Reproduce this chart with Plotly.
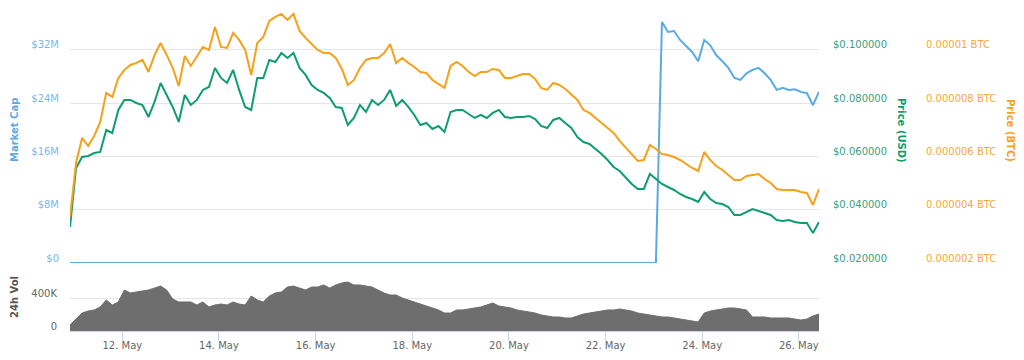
import pandas as pd
import plotly.graph_objects as go

# ---------------- data ----------------
start_time = "2018-05-10 22:00"
step = "3h"

price_usd = [
    0.03352, 0.05568, 0.05981, 0.06019, 0.06131, 0.06169, 0.06995, 0.06883, 0.07746, 0.08122,
    0.08122, 0.08009, 0.07934, 0.07483, 0.08047, 0.08761, 0.08310, 0.07859, 0.07296, 0.08310,
    0.07934, 0.08122, 0.08498, 0.08610, 0.09324, 0.08948, 0.08761, 0.09249, 0.08498, 0.07859,
    0.07746, 0.08948, 0.08948, 0.09624, 0.09549, 0.09887, 0.09700, 0.09887, 0.09324, 0.09061,
    0.08685, 0.08498, 0.08385, 0.08197, 0.07859, 0.07822, 0.07183, 0.07446, 0.07934, 0.07671,
    0.08122, 0.07934, 0.08122, 0.08498, 0.07897, 0.08122, 0.07859, 0.07559, 0.07183, 0.07258,
    0.07033, 0.07145, 0.06920, 0.07671, 0.07746, 0.07746, 0.07596, 0.07446, 0.07559, 0.07446,
    0.07634, 0.07746, 0.07483, 0.07446, 0.07483, 0.07483, 0.07521, 0.07408, 0.07145, 0.07070,
    0.07371, 0.07446, 0.07258, 0.07070, 0.06732, 0.06544, 0.06469, 0.06282, 0.06094, 0.05868,
    0.05605, 0.05455, 0.05192, 0.04967, 0.04779, 0.04779, 0.05343, 0.05155, 0.04967, 0.04854,
    0.04742, 0.04591, 0.04479, 0.04404, 0.04291, 0.04666, 0.04404, 0.04253, 0.04216, 0.04103,
    0.03803, 0.03803, 0.03915, 0.04028, 0.03953, 0.03878, 0.03803, 0.03615, 0.03577, 0.03615,
    0.03540, 0.03502, 0.03502, 0.03127, 0.03540,
]

price_btc_micro = [
    3.727, 5.756, 6.695, 6.394, 6.770, 7.296, 8.385, 8.235, 8.948, 9.249,
    9.437, 9.512, 9.624, 9.174, 9.812, 10.263, 9.812, 9.324, 8.648, 9.775,
    9.399, 9.737, 10.113, 10.000, 10.864, 10.113, 10.075, 10.639, 10.376, 10.000,
    9.061, 10.263, 10.488, 11.089, 11.239, 11.352, 11.127, 11.352, 10.714, 10.451,
    10.225, 10.000, 9.887, 9.887, 9.700, 9.286, 8.685, 8.873, 9.324, 9.624,
    9.700, 9.700, 9.887, 10.225, 9.512, 9.700, 9.512, 9.361, 9.174, 9.136,
    8.873, 8.723, 8.573, 9.399, 9.549, 9.399, 9.174, 9.023, 9.174, 9.174,
    9.286, 9.249, 8.948, 8.948, 9.023, 9.099, 9.099, 8.911, 8.573, 8.498,
    8.761, 8.685, 8.535, 8.310, 8.122, 7.746, 7.634, 7.446, 7.258, 7.070,
    6.883, 6.582, 6.319, 6.056, 5.831, 5.868, 6.432, 6.282, 6.094, 6.056,
    5.981, 5.868, 5.718, 5.568, 5.455, 6.169, 5.868, 5.643, 5.493, 5.305,
    5.117, 5.117, 5.267, 5.305, 5.343, 5.155, 5.005, 4.779, 4.742, 4.742,
    4.742, 4.666, 4.629, 4.178, 4.779,
]
price_btc = [v * 1e-6 for v in price_btc_micro]

market_cap_musd = [0.0] * 98 + [
    36.2, 34.7, 34.85, 33.5, 32.6, 31.7, 30.3, 33.5, 32.7, 31.2,
    30.3, 29.3, 27.8, 27.5, 28.5, 29.0, 29.3, 28.5, 27.5, 26.0,
    26.3, 26.0, 26.1, 25.7, 25.5, 23.7, 25.7,
]
market_cap = [v * 1e6 for v in market_cap_musd]

volume_k = [
    73, 145, 218, 242, 255, 291, 376, 315, 352, 497,
    461, 473, 485, 497, 521, 545, 497, 388, 352, 352,
    352, 315, 352, 291, 315, 327, 315, 352, 327, 315,
    424, 376, 352, 424, 461, 473, 533, 545, 521, 497,
    533, 533, 558, 521, 558, 582, 594, 558, 558, 545,
    533, 497, 461, 436, 436, 400, 376, 352, 327, 303,
    279, 255, 218, 218, 255, 255, 267, 279, 291, 315,
    339, 303, 291, 279, 255, 242, 230, 218, 194, 182,
    170, 170, 158, 158, 182, 206, 218, 230, 242, 255,
    255, 267, 255, 242, 218, 206, 194, 182, 170, 170,
    158, 145, 133, 121, 109, 218, 242, 255, 267, 279,
    279, 267, 255, 170, 170, 170, 158, 158, 158, 158,
    145, 133, 145, 182, 206,
]
volume = [v * 1e3 for v in volume_k]

times = pd.date_range(start_time, periods=len(price_usd), freq=step)

mcap_ticks = [0, 8e6, 16e6, 24e6, 32e6]
mcap_labels = ["$0", "$8M", "$16M", "$24M", "$32M"]
usd_ticks = [0.02, 0.04, 0.06, 0.08, 0.10]
btc_ticks = [2e-6, 4e-6, 6e-6, 8e-6, 10e-6]
btc_labels = ["0.000002 BTC", "0.000004 BTC", "0.000006 BTC", "0.000008 BTC", "0.00001 BTC"]
vol_ticks = [0, 400e3]
vol_labels = ["0", "400K"]

# ---------------- layout geometry ----------------
W, H = 1024, 360
ML, MR, MT, MB = 70, 10, 10, 29
PW, PH = W - ML - MR, H - MT - MB


def px_x(px):
    return (px - ML) / PW


def px_y(py):
    return (H - MB - py) / PH


FONT = "DejaVu Sans"
C_BLUE = "#5aabe3"
C_BLUE_LBL = "#7db8e6"
C_GREEN = "#0e9e6e"
C_GREEN_LBL = "#3d9e7c"
C_ORANGE = "#f7a11a"
C_ORANGE_LBL = "#f5a93a"
C_GRAY = "#6e6e6e"
GRID = "#e6e6e6"

fig = go.Figure()

fig.add_trace(go.Scatter(x=times, y=volume, xaxis="x", yaxis="y4", mode="lines",
                         line=dict(color=C_GRAY, width=1), fill="tozeroy",
                         fillcolor=C_GRAY, hoverinfo="skip"))
fig.add_trace(go.Scatter(x=times, y=price_usd, xaxis="x2", yaxis="y2", mode="lines",
                         line=dict(color=C_GREEN, width=2)))
fig.add_trace(go.Scatter(x=times, y=price_btc, xaxis="x2", yaxis="y3", mode="lines",
                         line=dict(color=C_ORANGE, width=2)))
fig.add_trace(go.Scatter(x=times, y=market_cap, xaxis="x2", yaxis="y", mode="lines",
                         line=dict(color=C_BLUE, width=2)))

xr = [times[0], times[-1]]
xdom = [0, px_x(819)]
main_dom = [px_y(263), 1]
vol_dom = [0, px_y(265)]

fig.update_layout(
    width=W, height=H,
    margin=dict(l=ML, r=MR, t=MT, b=MB, autoexpand=False),
    paper_bgcolor="white", plot_bgcolor="white",
    showlegend=False,
    font=dict(family=FONT, size=10, color="#666666"),
    xaxis=dict(domain=xdom, anchor="y4", range=xr, showgrid=False, automargin=False,
               tick0="2018-05-12", dtick=2 * 86400000, tickformat="%d. %b",
               ticks="outside", ticklen=9, tickcolor="#ccd6eb", ticklabelstandoff=-4,
               showline=True, linecolor="#ccd6eb", linewidth=1,
               tickfont=dict(color="#666666", size=10), zeroline=False),
    xaxis2=dict(domain=xdom, anchor="y", matches="x", showticklabels=False, automargin=False,
                showgrid=False, zeroline=False, showline=False),
    yaxis=dict(domain=main_dom, anchor="x2", range=[0, 38e6], automargin=False,
               tickvals=mcap_ticks, ticktext=mcap_labels,
               showgrid=True, gridcolor=GRID, zeroline=False,
               tickfont=dict(color=C_BLUE_LBL, size=10), ticklabelstandoff=10,
               ticklabelshift=-5),
    yaxis2=dict(overlaying="y", side="right", anchor="x2", range=[0.02, 0.115],
                automargin=False,
                tickvals=usd_ticks, tickformat="$.6f", showgrid=False, zeroline=False,
                tickfont=dict(color=C_GREEN_LBL, size=10), ticklabelstandoff=13,
                ticklabelshift=-5),
    yaxis3=dict(overlaying="y", side="right", anchor="free", position=px_x(915),
                automargin=False,
                range=[2e-6, 11.5e-6], tickvals=btc_ticks, ticktext=btc_labels,
                showgrid=False, zeroline=False,
                tickfont=dict(color=C_ORANGE_LBL, size=10), ticklabelstandoff=10,
                ticklabelshift=-5),
    yaxis4=dict(domain=vol_dom, anchor="x", range=[0, 800e3], automargin=False,
                tickvals=vol_ticks, ticktext=vol_labels,
                showgrid=True, gridcolor=GRID, zeroline=False,
                tickfont=dict(color="#666666", size=10), ticklabelstandoff=12,
                ticklabelshift=-5),
)

titles = [
    ("Market Cap", 14, 130, -90, C_BLUE),
    ("24h Vol", 14, 297, -90, "#555555"),
    ("Price (USD)", 902, 130, 90, C_GREEN),
    ("Price (BTC)", 1011, 130, 90, C_ORANGE),
]
for text, tx, ty, ang, col in titles:
    fig.add_annotation(text="<b>%s</b>" % text, xref="paper", yref="paper",
                       x=px_x(tx), y=px_y(ty), showarrow=False, textangle=ang,
                       font=dict(family=FONT, size=10, color=col),
                       xanchor="center", yanchor="middle")

fig.write_html(
    "out.html",
    config={"displayModeBar": False},
    post_script="document.body.style.margin='0';document.body.style.overflow='hidden';",
)
